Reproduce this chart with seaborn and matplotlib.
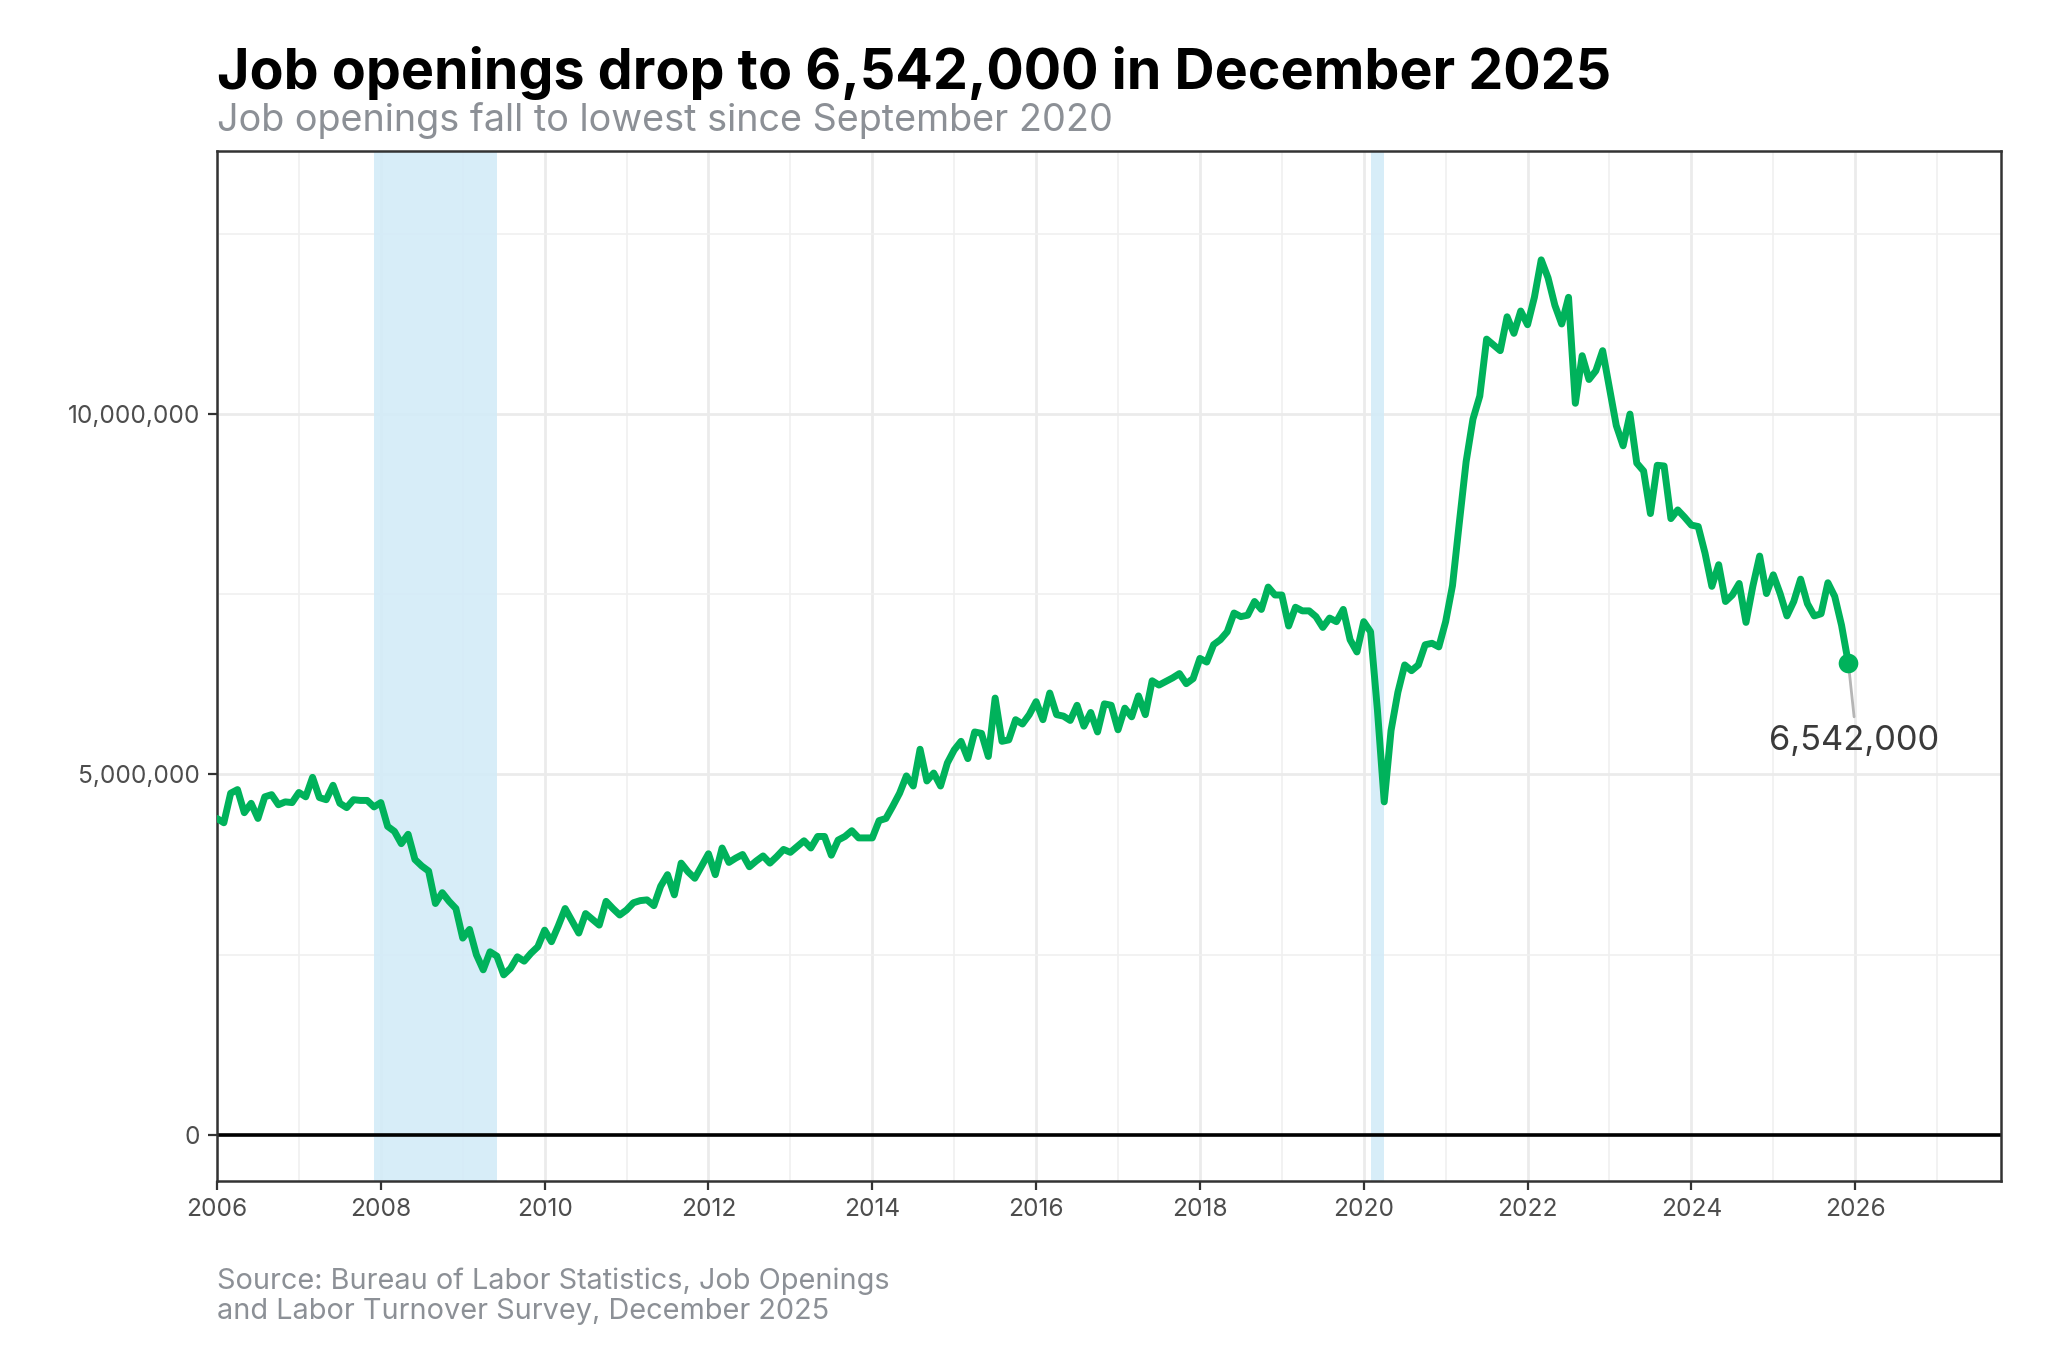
import numpy as np
import pandas as pd
import matplotlib
matplotlib.use("Agg")
import matplotlib.pyplot as plt
import matplotlib.ticker as mticker
import seaborn as sns

# ---- data (job openings, millions, monthly, seasonally adjusted) ----
years = list(range(2006, 2026))
openings_2006 = [4.39, 4.33, 4.74, 4.79, 4.47, 4.60, 4.39, 4.69, 4.72, 4.58, 4.62, 4.61]
openings_2007 = [4.75, 4.69, 4.96, 4.68, 4.65, 4.85, 4.60, 4.54, 4.65, 4.64, 4.64, 4.55]
openings_2008 = [4.61, 4.28, 4.21, 4.04, 4.17, 3.82, 3.73, 3.66, 3.21, 3.36, 3.24, 3.14]
openings_2009 = [2.73, 2.85, 2.50, 2.29, 2.54, 2.48, 2.22, 2.31, 2.47, 2.41, 2.52, 2.61]
openings_2010 = [2.84, 2.68, 2.90, 3.14, 2.97, 2.80, 3.07, 2.99, 2.91, 3.24, 3.14, 3.05]
openings_2011 = [3.12, 3.22, 3.25, 3.26, 3.18, 3.45, 3.61, 3.33, 3.77, 3.65, 3.56, 3.73]
openings_2012 = [3.90, 3.61, 3.98, 3.78, 3.84, 3.89, 3.72, 3.80, 3.87, 3.77, 3.86, 3.96]
openings_2013 = [3.92, 4.00, 4.08, 3.98, 4.14, 4.14, 3.88, 4.09, 4.14, 4.22, 4.12, 4.12]
openings_2014 = [4.12, 4.36, 4.39, 4.56, 4.74, 4.98, 4.84, 5.35, 4.91, 5.02, 4.84, 5.16]
openings_2015 = [5.34, 5.46, 5.22, 5.59, 5.57, 5.25, 6.06, 5.46, 5.48, 5.76, 5.70, 5.83]
openings_2016 = [6.01, 5.76, 6.13, 5.83, 5.81, 5.75, 5.96, 5.67, 5.86, 5.59, 5.98, 5.96]
openings_2017 = [5.62, 5.92, 5.80, 6.09, 5.83, 6.30, 6.24, 6.29, 6.34, 6.40, 6.26, 6.33]
openings_2018 = [6.61, 6.56, 6.80, 6.87, 6.98, 7.24, 7.19, 7.21, 7.40, 7.29, 7.60, 7.49]
openings_2019 = [7.49, 7.06, 7.32, 7.27, 7.27, 7.19, 7.04, 7.17, 7.12, 7.29, 6.87, 6.70]
openings_2020 = [7.12, 6.98, 5.90, 4.62, 5.61, 6.14, 6.52, 6.44, 6.52, 6.80, 6.82, 6.77]
openings_2021 = [7.12, 7.62, 8.49, 9.34, 9.93, 10.25, 11.04, 10.96, 10.88, 11.35, 11.12, 11.43]
openings_2022 = [11.24, 11.62, 12.14, 11.89, 11.51, 11.25, 11.62, 10.15, 10.81, 10.48, 10.60, 10.88]
openings_2023 = [10.36, 9.84, 9.56, 10.00, 9.32, 9.21, 8.62, 9.29, 9.28, 8.55, 8.67, 8.57]
openings_2024 = [8.46, 8.44, 8.07, 7.61, 7.91, 7.40, 7.49, 7.65, 7.11, 7.61, 8.03, 7.51]
openings_2025 = [7.77, 7.51, 7.20, 7.40, 7.71, 7.37, 7.20, 7.23, 7.66, 7.47, 7.07, 6.542]

recession_starts = [2007 + 11 / 12, 2020 + 1 / 12]
recession_ends = [2009 + 5 / 12, 2020 + 3 / 12]

x_ticks = list(range(2006, 2027, 2))
y_ticks = [0, 5_000_000, 10_000_000]
last_label = "6,542,000"

title = "Job openings drop to 6,542,000 in December 2025"
subtitle = "Job openings fall to lowest since September 2020"
source = "Source: Bureau of Labor Statistics, Job Openings\nand Labor Turnover Survey, December 2025"

all_vals = (openings_2006 + openings_2007 + openings_2008 + openings_2009 + openings_2010 +
            openings_2011 + openings_2012 + openings_2013 + openings_2014 + openings_2015 +
            openings_2016 + openings_2017 + openings_2018 + openings_2019 + openings_2020 +
            openings_2021 + openings_2022 + openings_2023 + openings_2024 + openings_2025)
dates = [y + m / 12 for y in years for m in range(12)]
df = pd.DataFrame({"date": dates, "openings": np.array(all_vals) * 1_000_000})

# ---- style ----
sns.set_theme(style="white")
plt.rcParams["font.family"] = ["Inter", "DejaVu Sans"]

GREEN = "#00b25b"
fig = plt.figure(figsize=(10.24, 6.825), dpi=200)
ax = fig.add_axes([217 / 2048, 1 - 1181 / 1365, (2001 - 217) / 2048, (1181 - 151) / 1365])

for s, e in zip(recession_starts, recession_ends):
    ax.axvspan(s, e, color="#d3ebf8", alpha=0.9, lw=0, zorder=1.5)

ax.axhline(0, color="black", lw=1.3, zorder=2)

sns.lineplot(data=df, x="date", y="openings", color=GREEN, lw=2.5, ax=ax, zorder=3)

last = df.iloc[-1]
ax.plot([last["date"], last["date"] + 0.07], [last["openings"], 5.80e6],
        color="#b5b5b5", lw=1.0, zorder=2.5)
ax.scatter([last["date"]], [last["openings"]], s=50, color=GREEN, zorder=4, lw=0)
ax.text(last["date"] + 0.07, 5.34e6, last_label, ha="center", va="baseline",
        fontsize=12.4, color="#3a3a3a", zorder=5)

ax.set_xlim(2006, 2027.78)
ax.set_ylim(-0.64e6, 13.65e6)
ax.set_xticks(x_ticks)
ax.set_xticks(list(range(2007, 2028, 2)), minor=True)
ax.set_yticks(y_ticks)
ax.set_yticks([2.5e6, 7.5e6, 12.5e6], minor=True)
ax.yaxis.set_major_formatter(mticker.FuncFormatter(lambda v, p: f"{v:,.0f}"))
ax.xaxis.set_major_formatter(mticker.FuncFormatter(lambda v, p: f"{int(v)}"))

ax.grid(which="major", color="#ebebeb", lw=1.0, zorder=0)
ax.grid(which="minor", color="#f0f0f0", lw=0.6, zorder=0)
ax.set_axisbelow(True)

ax.tick_params(axis="both", which="major", length=3.2, width=0.8, color="#333333",
               labelsize=8.8, labelcolor="#4d4d4d", pad=3, bottom=True, left=True)
ax.tick_params(axis="both", which="minor", length=0)
for sp in ax.spines.values():
    sp.set_color("#333333")
    sp.set_linewidth(0.9)
ax.set_xlabel("")
ax.set_ylabel("")

fig.text(217 / 2048, 1 - 89 / 1365, title, fontsize=20.0, fontweight="bold",
         color="black", ha="left", va="baseline")
fig.text(217 / 2048, 1 - 131 / 1365, subtitle, fontsize=13.6, color="#8c9096",
         ha="left", va="baseline")
fig.text(217 / 2048, 1 - 1319 / 1365, source, fontsize=10.4, color="#8c9096",
         ha="left", va="baseline", linespacing=1.15)

fig.savefig("out.png", dpi=200)
